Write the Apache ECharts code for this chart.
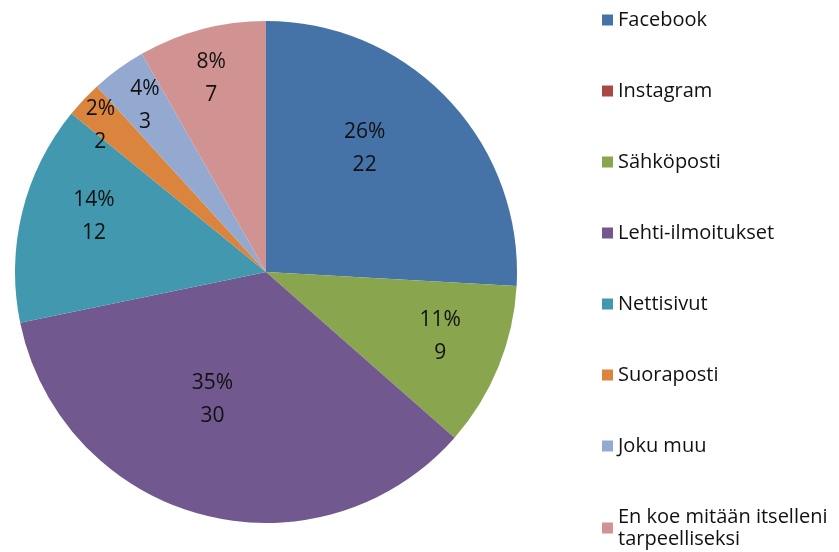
<!DOCTYPE html>
<html>
<head>
<meta charset="utf-8">
<script src="https://cdn.jsdelivr.net/npm/echarts@6/dist/echarts.min.js"></script>
<style>
html, body { margin: 0; padding: 0; background: #fff; }
#chart { width: 839px; height: 552px; }
</style>
</head>
<body>
<div id="chart"></div>
<script>
const categories = ['Facebook', 'Instagram', 'Sähköposti', 'Lehti-ilmoitukset', 'Nettisivut', 'Suoraposti', 'Joku muu', 'En koe mitään itselleni\ntarpeelliseksi'];
const counts = [22, 0, 9, 30, 12, 2, 3, 7];
const colors = ['#4572A7', '#AA4643', '#89A54E', '#71588F', '#4198AF', '#DB843D', '#93A9CF', '#D19392'];

// label placement tweaks (fraction of radius, angle shift in degrees)
const labelDist = [0.63, 0.5, 0.74, 0.55, 0.72, 0.88, 0.82, 0.8];
const labelShift = [-8, 0, -2, 8, 4, -2, 0, -1];

const CX = 266, CY = 272, R = 251;

let chart = echarts.init(document.getElementById('chart'));
const opt = {
	animation: false,
	color: colors,
	legend: {
		orient: 'vertical',
		left: 602,
		top: 9,
		height: 600,
		padding: 0,
		itemWidth: 11,
		itemHeight: 11,
		itemGap: 49,
		icon: 'rect',
		textStyle: {
			fontFamily: 'Open Sans',
			fontSize: 20,
			lineHeight: 22,
			color: '#111'
		},
		data: categories
	},
	series: [
		{
			type: 'pie',
			center: [CX, CY],
			radius: R,
			startAngle: 90,
			clockwise: true,
			percentPrecision: 0,
			label: {
				position: 'inside',
				align: 'left',
				formatter: '{d}%\n{c}',
				fontFamily: 'Open Sans',
				fontSize: 21,
				lineHeight: 33,
				color: '#111'
			},
			labelLine: { show: false },
			emphasis: { disabled: true },
			labelLayout: function(params) {
				const i = params.dataIndex;
				const r = params.labelRect;
				const cx = r.x + r.width / 2;
				const cy = r.y + r.height / 2;
				const ang = Math.atan2(cx - CX, -(cy - CY)) + labelShift[i] * Math.PI / 180;
				const d = labelDist[i] * R;
				const nx = CX + d * Math.sin(ang);
				const ny = CY - d * Math.cos(ang);
				return { dx: nx - cx, dy: ny - cy };
			},
			data: categories.map((name, i) => ({
				name: name,
				value: counts[i],
				label: { show: counts[i] > 0 }
			}))
		}
	]
};
chart.setOption(opt);
</script>
</body>
</html>
